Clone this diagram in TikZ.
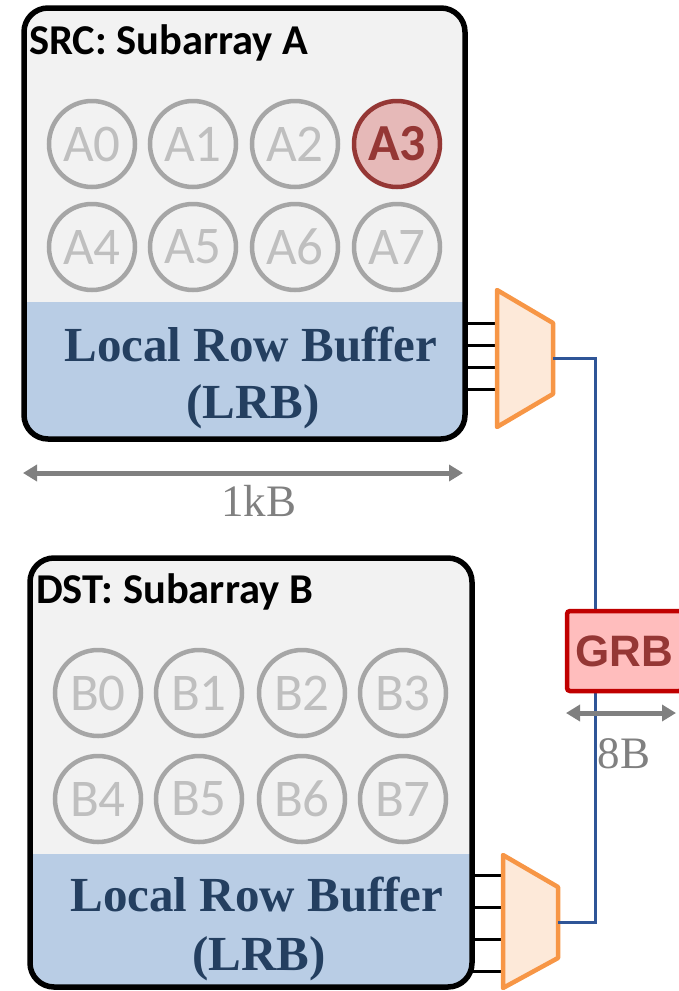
\documentclass[tikz,border=0pt]{standalone}
\usepackage{fontspec}
\usetikzlibrary{arrows.meta}
\newfontfamily\carl{Carlito}
\newfontfamily\lsans{Liberation Sans}
\newfontfamily\lserif{Liberation Serif}
\definecolor{boxbg}{HTML}{F2F2F2}
\definecolor{lrbbg}{HTML}{B9CDE5}
\definecolor{lrbtext}{HTML}{243F60}
\definecolor{cellgray}{HTML}{A6A6A6}
\definecolor{celltext}{HTML}{BFBFBF}
\definecolor{hotred}{HTML}{953735}
\definecolor{hotfill}{HTML}{E6B9B8}
\definecolor{muxline}{HTML}{F79646}
\definecolor{muxfill}{HTML}{FDE9D9}
\definecolor{busblue}{HTML}{2F5597}
\definecolor{grbfill}{HTML}{FFBDBD}
\definecolor{grbline}{HTML}{C00000}
\definecolor{dimgray}{HTML}{808080}
\begin{document}
\begin{tikzpicture}[x=1pt,y=-1pt,
  frame/.style={inner sep=0pt, outer sep=0pt, minimum width=#1},
  cell/.style={circle, draw=cellgray, line width=4.5pt, minimum size=86pt, inner sep=0pt,
    text=celltext, font=\carl\fontsize{53}{53}\selectfont},
  hot/.style={cell, draw=hotred, fill=hotfill, text=hotred,
    font=\carl\bfseries\fontsize{52}{52}\selectfont},
  title/.style={anchor=base west, inner sep=0pt, font=\carl\bfseries\fontsize{42.5}{42.5}\selectfont},
  lrb/.style={anchor=base, inner sep=0pt, text=lrbtext, font=\lserif\bfseries\fontsize{49}{49}\selectfont},
  border/.style={line width=5.5pt, rounded corners=24pt},
  muxshape/.style={draw=muxline, fill=muxfill, line width=4.5pt, line join=round},
  wire/.style={line width=3pt, black},
  bus/.style={line width=3pt, busblue},
  grbbox/.style={draw=grbline, fill=grbfill, line width=4.5pt, rounded corners=3pt,
    minimum width=115pt, minimum height=80pt, inner sep=0pt, text=hotred,
    font=\lsans\bfseries\fontsize{44}{44}\selectfont},
  dim/.style={line width=5pt, dimgray, {Triangle[width=16pt,length=14pt]}-{Triangle[width=16pt,length=14pt]}},
  dimtext/.style={inner sep=0pt, text=dimgray, font=\lserif\fontsize{45}{45}\selectfont}
]
\useasboundingbox (0,0) rectangle (679,991);

% ---------- Subarray A ----------
\node[frame=441pt, minimum height=431pt] (boxA) at (244.5,223.5) {};
\fill[boxbg, rounded corners=24pt] (boxA.north west) rectangle (boxA.south east);
\begin{scope}
  \clip[rounded corners=24pt] (boxA.north west) rectangle (boxA.south east);
  \fill[lrbbg] (boxA.west |- 0,302) rectangle (boxA.south east);
\end{scope}
\draw[border] (boxA.north west) rectangle (boxA.south east);
\node[title] (titleA) at (29,54) {SRC: Subarray A};
\node[cell] (a0) at (92,144) {A0};
\node[cell] (a1) at (193,144) {A1};
\node[cell] (a2) at (295,144) {A2};
\node[hot]  (a3) at (397,144) {A3};
\node[cell] (a4) at (92,247) {A4};
\node[cell] (a5) at (193,247) {A5};
\node[cell] (a6) at (295,247) {A6};
\node[cell] (a7) at (397,247) {A7};
\node[lrb] (lrbA1) at (251,361) {Local Row Buffer};
\node[lrb] (lrbA2) at (253,418) {(LRB)};

% ---------- Subarray B ----------
\node[frame=442pt, minimum height=429pt] (boxB) at (251,772.5) {};
\fill[boxbg, rounded corners=24pt] (boxB.north west) rectangle (boxB.south east);
\begin{scope}
  \clip[rounded corners=24pt] (boxB.north west) rectangle (boxB.south east);
  \fill[lrbbg] (boxB.west |- 0,854) rectangle (boxB.south east);
\end{scope}
\draw[border] (boxB.north west) rectangle (boxB.south east);
\node[title] (titleB) at (36,603) {DST: Subarray B};
\node[cell] (b0) at (98,693) {B0};
\node[cell] (b1) at (199,693) {B1};
\node[cell] (b2) at (302,693) {B2};
\node[cell] (b3) at (403,693) {B3};
\node[cell] (b4) at (98,799) {B4};
\node[cell] (b5) at (199,799) {B5};
\node[cell] (b6) at (302,799) {B6};
\node[cell] (b7) at (403,799) {B7};
\node[lrb] (lrbB1) at (257,911) {Local Row Buffer};
\node[lrb] (lrbB2) at (259,970) {(LRB)};

% ---------- Mux A ----------
\coordinate (muxAin1) at (497,323);
\coordinate (muxAin2) at (497,345);
\coordinate (muxAin3) at (497,367);
\coordinate (muxAin4) at (497,389);
\coordinate (muxAout) at (553,358);
\foreach \i in {1,2,3,4} \draw[wire] (boxA.east |- muxAin\i) -- (muxAin\i);
\draw[muxshape] (497,290) -- (553,323) -- (553,394) -- (497,427) -- cycle;

% ---------- Mux B ----------
\coordinate (muxBin1) at (503,875);
\coordinate (muxBin2) at (503,907);
\coordinate (muxBin3) at (503,939);
\coordinate (muxBin4) at (503,971);
\coordinate (muxBout) at (558,922);
\foreach \i in {1,2,3,4} \draw[wire] (boxB.east |- muxBin\i) -- (muxBin\i);
\draw[muxshape] (503,855) -- (558,887) -- (558,958) -- (503,988) -- cycle;

% ---------- Bus and GRB ----------
\coordinate (bendA) at (595,358);
\coordinate (bendB) at (595,922);
\draw[bus] (muxAout) -- (bendA) -- (bendB) -- (muxBout);
\node[grbbox] (grb) at (624.5,651) {GRB};

% ---------- Dimensions ----------
\coordinate (dAl) at (23,473);
\coordinate (dAr) at (463,473);
\draw[dim] (dAl) -- (dAr);
\node[dimtext] (t1kB) at (259,501) {1kB};
\coordinate (dBl) at (566,713);
\coordinate (dBr) at (676,713);
\draw[dim] (dBl) -- (dBr);
\node[dimtext] (t8B) at (624,754) {8B};
\end{tikzpicture}
\end{document}
